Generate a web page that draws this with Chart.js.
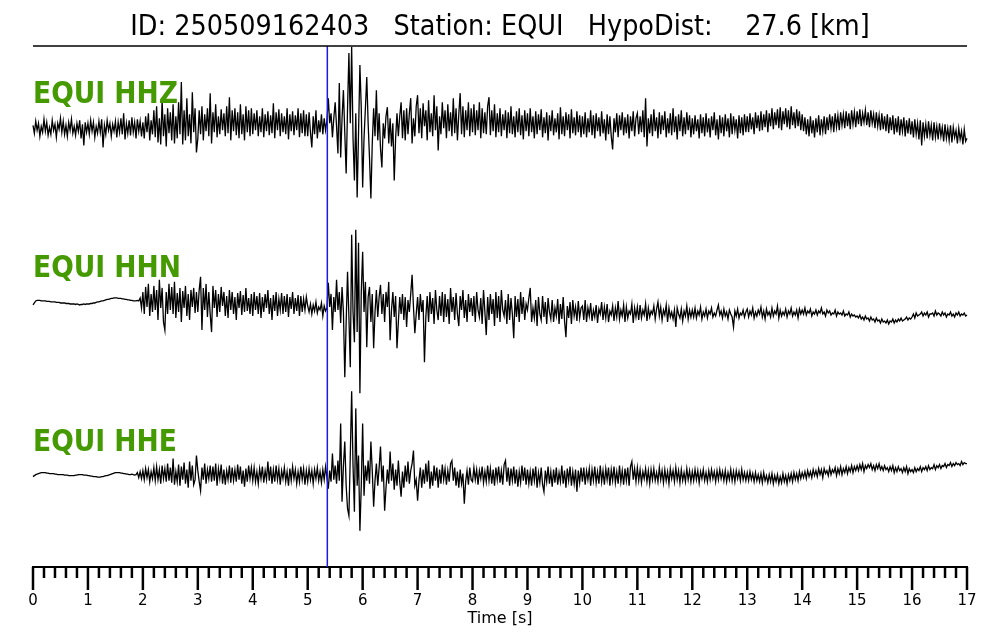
<!DOCTYPE html>
<html>
<head>
<meta charset="utf-8">
<title>EQUI waveforms</title>
<script src="https://cdn.jsdelivr.net/npm/chart.js@4.4.1/dist/chart.umd.min.js"></script>
<style>
  body { margin: 0; background: #fff; }
  canvas { display: block; }
</style>
</head>
<body>
<canvas id="waveChart" width="1000" height="640"></canvas>
<script>
// event info
const eventId = "250509162403";
const station = "EQUI";
const hypoDist = 27.6;
const channels = ["HHZ", "HHN", "HHE"];
const pickTime = 5.357; // P pick [s]
const sampleStep = 0.025; // s between samples
const timeMin = 0;
const timeMax = 17;

// traces: one row per second (40 samples), then the last sample
const hhz = [
  [3,-5,7,-2,5,-8,2,-4,9,-3, 6,-7,1,-6,8,-2,4,-9,5,-1, 10,-4,7,-6,3,-8,6,-2,9,-5, 2,-7,5,-3,8,-10,4,-17,6,-4],
  [5,-6,8,-3,6,-9,2,-5,7,-4, 9,-19,3,-6,8,-2,5,-8,4,-3, 7,-9,6,-4,10,-6,15,-11,5,-5, 8,-7,11,-4,6,-10,9,-3,7,-8],
  [6,-10,12,-4,15,-12,8,-6,18,-9, 22,-14,10,-16,28,-8,14,-18,20,-5, 16,-12,24,-15,12,-10,26,-6,46,-16, 18,-12,30,-8,14,-15,36,-4,20,-24],
  [-10,18,-6,22,-12,14,-3,20,-8,35, -15,16,-4,24,-9,12,-6,19,-2,15, -8,22,-5,31,-12,18,-3,20,-7,16, -10,24,-6,14,-12,22,-4,18,-8,20],
  [-6,15,-2,18,-8,12,-4,20,-9,14, -3,17,-7,13,-5,25,-10,16,-2,19, -8,15,-4,12,-6,20,-11,14,-3,17, -7,13,-2,20,-9,15,-5,18,-8,14],
  [-8,16,-4,-19,12,-6,18,-10,8,-4, 14,-6,10,-2,8,30,5,15,-9,10, 26,2,-25,45,-29,10,38,-5,-45,20, 75,5,81,-10,-52,15,-69,-5,63,20],
  [-59,-10,20,51,5,-30,-70,-15,20,-8, 38,-12,15,-20,-39,5,-10,12,21,-15, 10,-18,5,-52,-10,15,-8,12,26,-10, 18,-12,20,-6,15,30,-15,10,-8,22],
  [33,-5,20,-10,25,2,18,-12,28,-4, 15,-8,33,-2,22,-22,12,-6,26,0, 18,-10,24,-3,16,-8,30,-5,20,-12, 14,35,-6,22,-9,18,-2,26,-8,20],
  [-4,24,-7,18,-2,26,-10,20,-5,16, -6,22,31,-7,18,-3,24,-9,15,-4, 20,-8,14,-2,18,-10,16,-5,22,-6, 12,-9,17,-4,20,-7,13,-11,18,-3],
  [15,-8,20,-4,12,-10,17,-6,14,-2, 19,-9,11,-5,16,-12,13,-3,18,-7, 10,-4,15,-11,21,-6,12,-8,16,-2, 14,-10,19,-5,11,-7,17,-4,13,-9],
  [12,-6,16,-9,10,-4,18,-7,13,-10, 15,-3,11,-8,17,-5,9,-12,14,-6, 12,-8,-21,10,-4,15,-9,13,-2,16, -7,11,-5,14,-10,12,-3,17,-8,10],
  [15,-6,12,-4,18,-9,30,-18,10,-5, 14,-8,19,-3,11,-10,16,-6,13,-2, 17,-9,10,-5,15,-7,20,-4,12,-11, 14,-3,18,-8,11,-6,16,-2,13,-9],
  [10,-6,13,-3,9,-10,14,-5,11,-8, 15,-4,10,-9,12,-2,16,-7,9,-11, 13,-5,11,-8,14,-3,10,-9,15,-6, 12,-2,9,-10,13,-5,11,-7,14,-4],
  [12,-4,15,-1,11,-6,16,0,13,-3, 17,-2,14,1,18,-4,15,2,20,-1, 16,3,19,0,21,-2,17,4,20,1, 18,-1,22,3,16,0,19,2,17,-2],
  [14,-3,11,-6,9,-8,12,-5,8,-9, 10,-4,13,-7,9,-3,12,-6,11,-2, 14,0,12,-4,15,1,13,-2,16,3, 14,0,17,2,15,-1,18,4,16,1],
  [17,4,19,2,15,6,18,3,16,1, 18,5,14,0,16,2,13,-2,15,-1, 12,-3,14,-5,11,-2,13,-6,10,-4, 12,-7,9,-3,11,-8,8,-5,10,-6],
  [7,-9,9,-6,5,-11,8,-17,6,-8, 4,-10,7,-7,3,-12,6,-9,2,-11, 5,-8,1,-13,4,-10,0,-12,3,-14, 1,-9,-2,-15,0,-11,-3,-16,-1,-13],
  [-10],
].flat();

const hhn = [
  [-3,-1,1,1.5,1.5,1.5,1,1,1,1, 0.5,0.5,0.5,0,0,0,0,-0.5,-0.5,-0.5, -1,-1,-1,-1,-1.5,-1.5,-1.5,-2,-2,-2, -2,-2.5,-2,-2.5,-3,-2.5,-2.5,-2,-2.5,-2],
  [-2,-2,-1.5,-1.5,-1,-1,-0.5,0,0,0.5, 1,1,1.5,2,2.5,2.5,3,3.5,3.5,4, 4,4,3.5,3.5,3.5,3,3,2.5,2.5,2, 2,1.5,1.5,1,1,1,1.5,1,4,-6],
  [10,-12,15,-5,18,-14,8,-10,16,-8, 12,-18,22,-6,14,-20,-28,10,-12,18, -8,15,-12,20,-16,9,-10,14,-20,11, -6,16,-14,8,-18,12,-5,14,-11,10],
  [-10,12,25,-28,14,-8,18,-15,10,-12, -30,16,-6,12,-15,8,-10,15,-4,10, -14,6,-16,12,-8,10,-12,5,-18,9, -6,11,-13,7,-10,14,-9,4,-12,8],
  [-14,10,-8,6,-12,9,-16,5,-10,8, -6,12,-12,4,-18,7,-9,10,-14,3, -8,9,-12,6,-10,8,-15,5,-7,10, -12,4,-9,7,-14,6,-10,3,-8,5],
  [-4,-10,-2,-12,-3,-9,0,-11,-5,-8, -1,-14,-4,-9,-6,19,-5,8,-28,5, -10,22,-8,10,-21,15,-10,-75,-20,30, -15,-65,67,-10,-40,72,-30,59,-91,10],
  [50,-10,20,-45,5,15,-20,8,-46,-10, 12,-15,5,17,-12,8,-20,10,-5,20, -38,-8,10,-15,6,-46,-20,5,-12,8, -18,5,-25,2,-10,8,27,-5,-31,-12],
  [5,-18,8,-10,2,-60,-15,6,-20,10, -12,4,-22,12,-8,-18,6,-14,10,-20, 8,-15,3,-22,14,-10,5,-18,9,-12, -24,6,-8,12,-16,2,-20,8,-10,4],
  [-14,6,-20,10,-8,-15,4,-22,12,-10, -33,5,-18,8,-12,3,-24,10,-16,6, -20,12,-8,-14,2,-22,8,-18,4,-12, -36,6,-15,3,-20,10,-12,5,-18,-2],
  [-8,4,14,-20,-6,-16,2,-24,5,-12, -18,6,-15,0,-22,4,-10,-17,2,-20, -6,-14,3,-22,-2,-17,5,-19,-35,-4, -16,0,-22,2,-14,-5,-19,1,-16,-6],
  [-4,-18,2,-20,-6,-14,-1,-19,-8,-15, -3,-21,-7,-12,0,-18,-5,-16,-2,-20, -9,-13,-4,-19,-6,-15,1,-17,-8,-14, -3,-20,-5,-16,-9,-12,-2,-21,-6,-15],
  [-5,-18,-3,-16,-8,-13,-2,-19,-6,-15, -9,-12,-4,-17,-7,0,-14,-5,-18,-8, -13,-3,-20,-6,-15,-10,-17,-8,-25,-6, -12,-16,-7,-19,-9,-14,-4,-17,-8,-15],
  [-8,-15,-6,-16,-9,-13,-5,-17,-10,-14, -7,-16,-9,-12,-6,-15,-11,-14,-8,-3, -13,-9,-16,-7,-14,-10,-17,-8,-12,-15, -25,-9,-14,-7,-16,-11,-13,-8,-15,-10],
  [-7,-15,-9,-13,-6,-16,-10,-14,-8,-12, -5,-15,-9,-17,-7,-13,-10,-15,-6,-14, -9,-12,-4,-16,-8,-14,-10,-13,-7,-15, -9,-12,-6,-14,-10,-13,-8,-16,-7,-12],
  [-8,-12,-6,-13,-9,-11,-7,-14,-10,-12, -8,-13,-9,-11,-6,-12,-10,-14,-8,-11, -9,-13,-11,-12,-8,-14,-10,-12,-11,-13, -9,-14,-12,-13,-10,-15,-12,-14,-13,-15],
  [-14,-16,-13,-17,-15,-18,-14,-17,-16,-19, -15,-18,-17,-20,-16,-19,-18,-21,-17,-20, -19,-21,-18,-22,-19,-20,-17,-21,-18,-20, -17,-19,-16,-19,-18,-17,-15,-18,-16,-17],
  [-15,-12,-16,-11,-14,-13,-12,-10,-14,-11, -13,-10,-15,-12,-12,-11,-14,-9,-13,-11, -12,-14,-10,-13,-11,-15,-12,-13,-10,-14, -12,-15,-11,-13,-10,-14,-12,-13,-11,-14],
  [-13],
].flat();

const hhe = [
  [-1,0,1,1.5,2,2.5,3,3,3,3, 2.5,2.5,2,2,2,2,1.5,1.5,1,1, 1,1,1,0.5,0.5,0.5,0,0,0,0, 0,0.5,0.5,1,1,1,1,0.5,0.5,0.5],
  [0,0,-0.5,-0.5,-1,-1,-1,-1.5,-1.5,-1.5, -1,-1,-0.5,0,0,0.5,1,1.5,2,2.5, 3,3,3,3,2.5,2.5,2,2,1.5,1.5, 1,1,1.5,1,0.5,1,3,-2,4,-3],
  [5,-4,7,-2,6,-6,4,-3,8,-5, 9,-4,6,-8,10,-3,7,-6,12,-5, 8,-7,17,-9,4,-6,11,-10,9,-4, 13,-8,6,-12,14,-5,10,-9,-4,20],
  [5,-6,-15,8,-4,12,-8,6,-3,10, -6,9,-5,12,-10,7,-3,11,-8,6, -9,5,-4,10,-7,8,-5,6,-6,11, -4,9,-8,5,-11,7,-6,10,-3,8],
  [-5,8,-6,4,-8,7,-3,9,-7,5, -4,14,-5,9,-8,6,-6,10,-4,7, -9,5,-3,8,-6,4,-10,7,-5,9, -3,6,-8,4,-6,9,-4,7,-9,5],
  [-6,7,-4,5,-8,6,-3,8,-5,4, -7,6,-4,9,-2,-13,5,-6,22,-4, 10,-8,15,-5,52,-26,10,34,-10,-33, -40,20,84,10,-36,67,-10,20,-55,-10],
  [52,-20,10,-5,15,-8,34,5,-31,-5, 12,-10,8,29,-6,10,-35,-12,6,-8, 24,-5,12,-14,6,-10,15,-6,-21,4, -12,10,-6,14,-8,5,12,25,-10,-4],
  [-25,-5,8,-12,6,-8,12,-6,15,-13, 4,-10,10,-5,8,-12,6,-8,11,-4, 7,-9,5,-6,12,15,-5,8,-10,4, -12,6,-8,2,-28,-6,5,-9,8,-4],
  [-6,8,-4,6,-9,5,-3,9,-7,4, -6,10,-5,7,-8,6,-10,8,-4,9, -7,5,-9,11,15,-6,8,-10,7,-5, 9,-8,6,-11,4,-7,10,-5,8,-9],
  [6,-8,4,-10,7,-5,9,-12,3,-7, 8,-9,-16,5,-6,9,-8,4,-11,6, -7,8,-9,3,-6,10,-8,5,-12,7, -5,9,-10,4,-8,6,-16,5,-7,8],
  [-6,8,-9,5,-4,7,-10,6,-5,9, -7,4,-8,10,-6,5,-9,7,-4,8, -10,6,-5,9,-7,4,-8,10,-6,5, -9,7,-5,8,-10,9,14,-4,7,-6],
  [8,-5,6,-7,4,-3,7,-6,5,-8, 6,-4,7,-5,3,-6,8,-4,5,-7, 6,-5,4,-8,7,-3,5,-6,8,-4, 5,-7,6,-5,3,-6,7,-4,5,-6],
  [4,-5,6,-4,5,-7,4,-3,6,-5, 3,-6,5,-4,6,-3,4,-6,5,-4, 6,-3,4,-5,5,-6,3,-4,6,-5, 4,-6,5,-3,4,-5,6,-4,3,-5],
  [3,-5,4,-4,2,-6,3,-5,1,-6, 2,-7,3,-5,0,-7,1,-6,2,-8, 0,-6,1,-8,-1,-7,2,-6,0,-8, 1,-5,2,-6,3,-4,2,-5,4,-3],
  [3,-2,4,-3,5,-1,4,-2,6,0, 5,-1,7,1,6,-2,7,2,5,0, 8,1,6,3,8,0,7,2,9,1, 7,3,9,2,8,4,10,3,9,5],
  [10,5,11,6,12,4,10,7,11,8, 12,6,10,5,11,7,12,6,9,5, 10,6,8,4,9,5,10,3,8,4, 9,5,7,3,8,4,9,2,7,4],
  [6,3,8,4,7,5,9,4,8,6, 9,5,10,6,8,7,11,6,10,8, 11,7,10,9,12,8,11,10,13,9, 12,10,13,11,12,10,14,11,13,12],
  [12],
].flat();

const traces = [hhz, hhn, hhe];

function isWhole(v) {
  return Math.abs(v - Math.round(v)) < 1e-6;
}

// datasets
const datasets = traces.map(function (vals, i) {
  return {
    label: station + " " + channels[i],
    data: vals.map(function (v, k) {
      return { x: k * sampleStep, y: v };
    }),
    yAxisID: "y" + i,
    borderColor: "#000000",
    borderWidth: 1.3,
    pointRadius: 0,
    tension: 0,
    clip: false,
    order: 1,
  };
});
datasets.push({
  label: "P",
  data: [{ x: pickTime, y: 0 }, { x: pickTime, y: 1 }],
  yAxisID: "yPick",
  borderColor: "#1c1ce0",
  borderWidth: 1.5,
  pointRadius: 0,
  order: 0,
});

// scales
const scales = {
  x: {
    type: "linear",
    min: timeMin,
    max: timeMax,
    ticks: {
      stepSize: 0.2,
      autoSkip: false,
      maxRotation: 0,
      padding: 2,
      color: "#000",
      font: { size: 15, lineHeight: 1 },
      callback: function (v) {
        return isWhole(v) ? String(Math.round(v)) : "";
      },
    },
    grid: {
      display: true,
      drawOnChartArea: false,
      drawTicks: true,
      tickLength: 25,
      tickColor: "rgba(0,0,0,0)",
    },
    border: { display: true, color: "#000", width: 2 },
    title: {
      display: true,
      text: "Time [s]",
      color: "#000",
      font: { size: 16, lineHeight: 1 },
      padding: 0,
    },
  },
  yPick: { display: false, min: 0, max: 1 },
};
// stacked panels, added bottom first so HHZ ends up on top
for (let i = channels.length - 1; i >= 0; i--) {
  scales["y" + i] = {
    stack: "traces",
    stackWeight: 1,
    min: -91,
    max: 82,
    ticks: { display: false },
    grid: { display: false, drawTicks: false },
    border: { display: false },
  };
}

// ticks, top line and channel names
const seisDecor = {
  id: "seisDecor",
  afterDraw: function (chart) {
    const ctx = chart.ctx;
    const area = chart.chartArea;
    const xs = chart.scales.x;
    ctx.save();
    ctx.strokeStyle = "#000";
    ctx.lineWidth = 1.5;
    ctx.beginPath();
    ctx.moveTo(area.left, area.top);
    ctx.lineTo(area.right, area.top);
    ctx.stroke();

    ctx.lineWidth = 2.5;
    xs.ticks.forEach(function (t) {
      const px = xs.getPixelForValue(t.value);
      const len = isWhole(t.value) ? 23 : 11;
      ctx.beginPath();
      ctx.moveTo(px, xs.top);
      ctx.lineTo(px, xs.top + len);
      ctx.stroke();
    });

    ctx.fillStyle = "#449a00";
    ctx.font = "bold 29.5px 'DejaVu Sans Condensed', 'DejaVu Sans'";
    ctx.textBaseline = "alphabetic";
    ctx.textAlign = "left";
    channels.forEach(function (c, i) {
      const ys = chart.scales["y" + i];
      ctx.fillText(station + " " + c, area.left, ys.getPixelForValue(25));
    });
    ctx.restore();
  },
};

Chart.defaults.font.family = "'DejaVu Sans', sans-serif";

const titleText =
  "ID: " + eventId + "   Station: " + station + "   HypoDist:    " + hypoDist.toFixed(1) + " [km]";

new Chart(document.getElementById("waveChart"), {
  type: "line",
  data: { datasets: datasets },
  options: {
    responsive: false,
    animation: false,
    devicePixelRatio: 1,
    layout: { padding: { left: 33, right: 33, top: 0, bottom: 13 } },
    plugins: {
      legend: { display: false },
      tooltip: { enabled: false },
      title: {
        display: true,
        text: titleText,
        color: "#000",
        font: {
          family: "'DejaVu Sans Condensed', 'DejaVu Sans'",
          size: 28.4,
          weight: "normal",
          lineHeight: 1.2,
        },
        padding: { top: 11, bottom: 0.9 },
      },
    },
    scales: scales,
  },
  plugins: [seisDecor],
});
</script>
</body>
</html>
